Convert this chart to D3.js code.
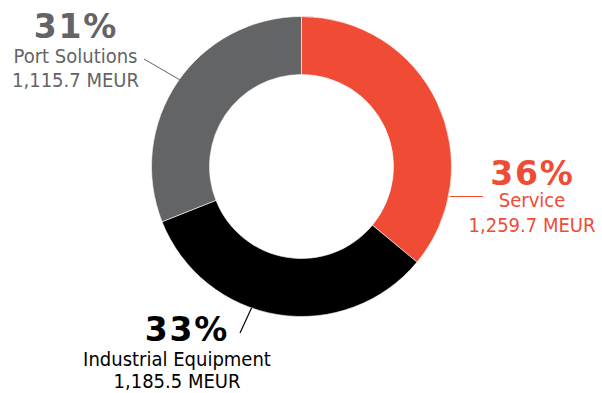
<!DOCTYPE html>
<html>
<head>
<meta charset="utf-8">
<script src="https://cdn.jsdelivr.net/npm/d3@7"></script>
<style>
  html, body { margin: 0; padding: 0; background: #fff; }
  svg { display: block; }
  .pct { font-family: "DejaVu Sans", Verdana, sans-serif; font-weight: bold; }
  .lbl { font-family: "DejaVu Sans Condensed", "DejaVu Sans", sans-serif; font-stretch: condensed; }
</style>
</head>
<body>
<svg id="chart" width="602" height="393"></svg>
<script>
// Revenue split by business area
const segments = ["Service", "Industrial Equipment", "Port Solutions"];
const shares = [36, 33, 31];                 // percent of total
const sales = ["1,259.7", "1,185.5", "1,115.7"]; // MEUR
const colors = ["#F04C35", "#000000", "#636466"];

const cx = 301.5, cy = 166.5, outerR = 150, innerR = 92;

const svg = d3.select("#chart");
const g = svg.append("g").attr("transform", `translate(${cx},${cy})`);

const pie = d3.pie().sort(null).value(d => d)(shares);
const arc = d3.arc().innerRadius(innerR).outerRadius(outerR);

g.selectAll("path.slice")
  .data(pie)
  .join("path")
  .attr("class", "slice")
  .attr("d", arc)
  .attr("fill", (d, i) => colors[i])
  .attr("stroke", "#fff")
  .attr("stroke-width", 0.6);

// Label placement per segment: centre x, baselines of the three text lines,
// and the leader line end points (slice edge -> text)
const labelPos = [
  { x: 532, pctX: 532.5, base: [184.5, 207, 231.5], line: [[450, 196.5], [483, 196.5]] },
  { x: 177, pctX: 187, base: [341, 365.5, 388], line: [[251.5, 308], [240, 333]] },
  { x: 75.5, pctX: 76, base: [38, 63.3, 86.7], line: [[180, 80], [144, 59]] }
];

const labels = svg.selectAll("g.label")
  .data(pie)
  .join("g")
  .attr("class", "label");

labels.append("path")
  .attr("d", (d, i) => d3.line()(labelPos[i].line))
  .attr("fill", "none")
  .attr("stroke", (d, i) => colors[i])
  .attr("stroke-width", (d, i) => i === 2 ? 1 : 1.2);

labels.append("text")
  .attr("class", "pct")
  .attr("x", (d, i) => labelPos[i].pctX)
  .attr("y", (d, i) => labelPos[i].base[0])
  .attr("text-anchor", "middle")
  .attr("font-size", 33)
  .attr("letter-spacing", 1.8)
  .attr("fill", (d, i) => colors[i])
  .text(d => `${d.data}%`);

labels.append("text")
  .attr("class", "lbl")
  .attr("x", (d, i) => labelPos[i].x)
  .attr("y", (d, i) => labelPos[i].base[1])
  .attr("text-anchor", "middle")
  .attr("font-size", 20)
  .attr("fill", (d, i) => colors[i])
  .text((d, i) => segments[i]);

labels.append("text")
  .attr("class", "lbl")
  .attr("x", (d, i) => labelPos[i].x)
  .attr("y", (d, i) => labelPos[i].base[2])
  .attr("text-anchor", "middle")
  .attr("font-size", 20)
  .attr("fill", (d, i) => colors[i])
  .text((d, i) => `${sales[i]} MEUR`);
</script>
</body>
</html>
